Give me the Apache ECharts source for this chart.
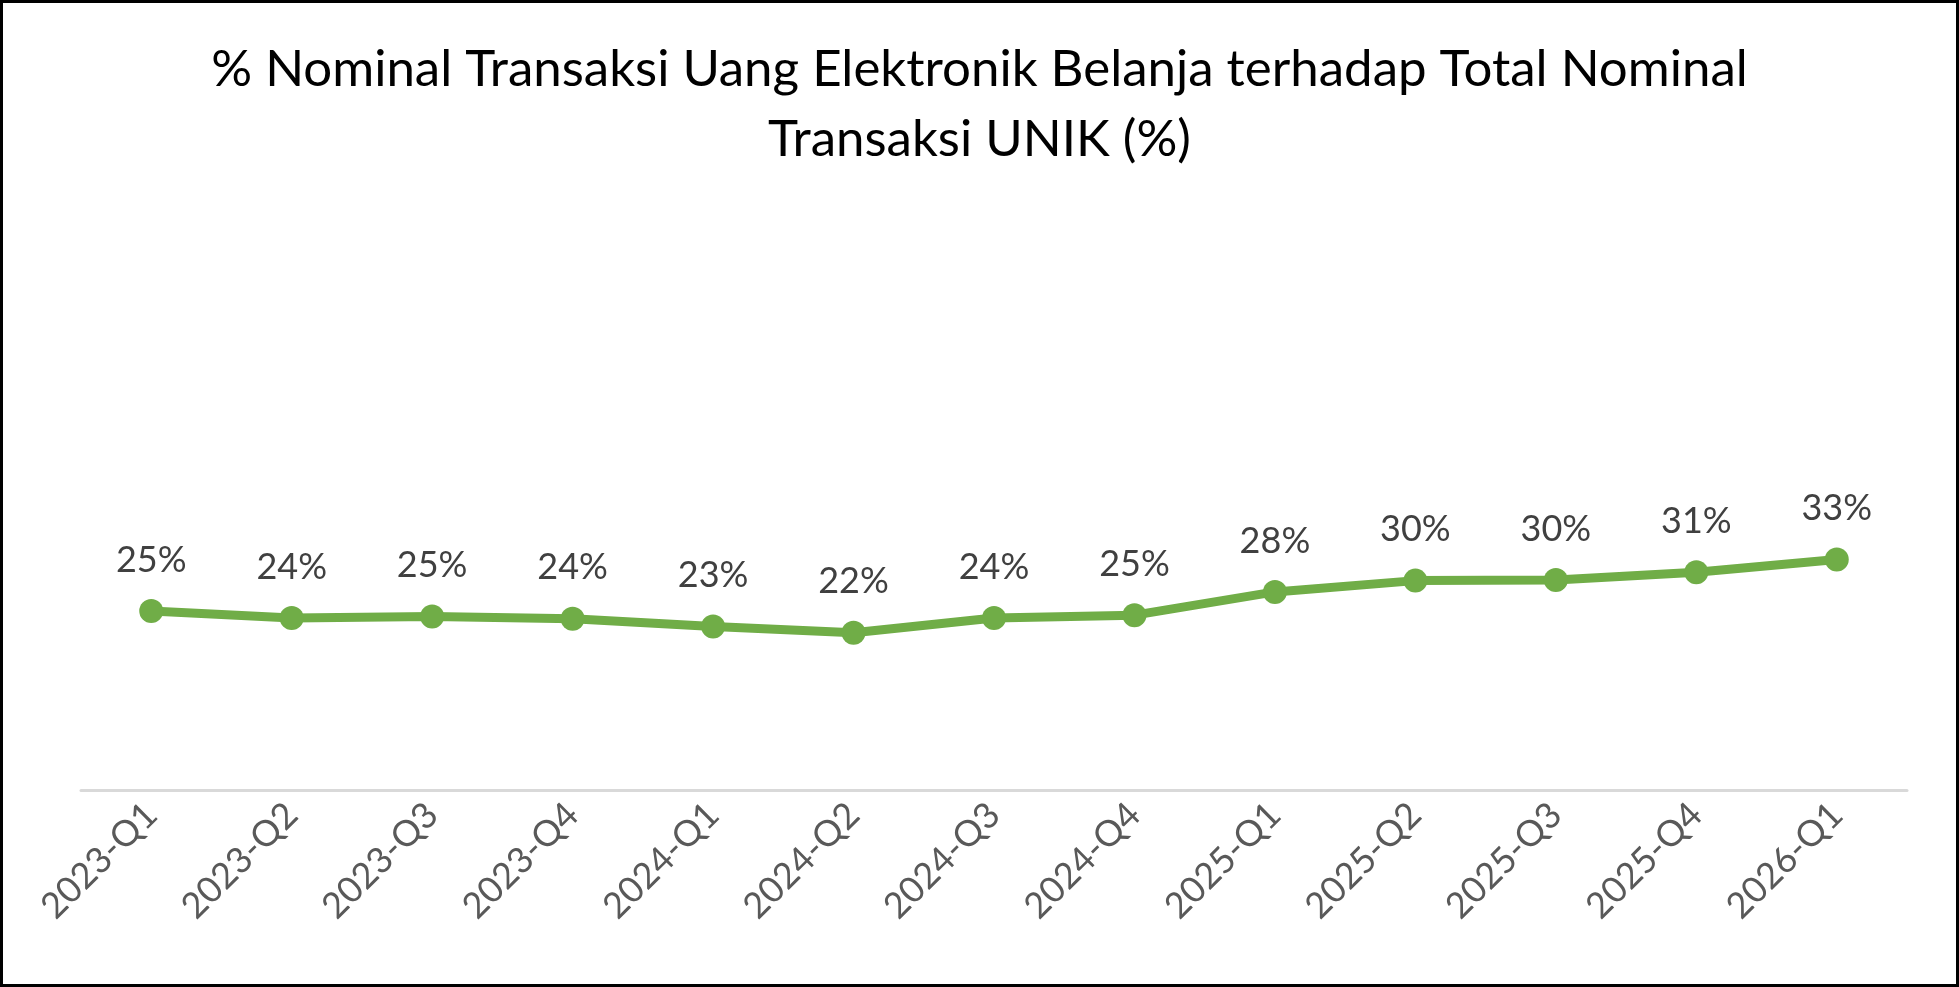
<!DOCTYPE html>
<html>
<head>
<meta charset="utf-8">
<script src="https://cdn.jsdelivr.net/npm/echarts@6/dist/echarts.min.js"></script>
<style>
html,body{margin:0;padding:0;background:#fff;}
#c{width:1959px;height:987px;}
</style>
</head>
<body>
<div id="c"></div>
<script>
const categories = ['2023-Q1','2023-Q2','2023-Q3','2023-Q4','2024-Q1','2024-Q2','2024-Q3','2024-Q4','2025-Q1','2025-Q2','2025-Q3','2025-Q4','2026-Q1'];
const shareValues = [25.4, 24.4, 24.6, 24.3, 23.2, 22.3, 24.4, 24.8, 28.1, 29.7, 29.8, 30.9, 32.7];
const titleLines = ['% Nominal Transaksi Uang Elektronik Belanja terhadap Total Nominal', 'Transaksi UNIK (%)'];

const chart = echarts.init(document.getElementById('c'));
chart.setOption({
  backgroundColor: '#fff',
  animation: false,
  title: {
    text: titleLines.join('\n'),
    left: 'center',
    top: 30,
    textStyle: { fontFamily: 'Lato', fontSize: 51, fontWeight: 'normal', color: '#000', lineHeight: 70 }
  },
  graphic: [{
    type: 'rect',
    shape: { x: 1.5, y: 1.5, width: 1956, height: 984 },
    style: { fill: 'none', stroke: '#000', lineWidth: 3 },
    silent: true
  }],
  grid: { left: 81, right: 52, top: 508, bottom: 197 },
  xAxis: {
    type: 'category',
    data: categories,
    boundaryGap: true,
    axisLine: { lineStyle: { color: '#D9D9D9', width: 3 } },
    axisTick: { show: false },
    axisLabel: { rotate: 45, margin: 19, color: '#595959', fontFamily: 'Lato', fontSize: 36 }
  },
  yAxis: {
    type: 'value', min: 0, max: 40, show: false,
    splitLine: { show: false }
  },
  series: [{
    type: 'line',
    data: shareValues,
    symbol: 'circle',
    symbolSize: 24,
    itemStyle: { color: '#70AD47' },
    lineStyle: { color: '#70AD47', width: 9 },
    label: {
      show: true, position: 'top', distance: 21,
      color: '#404040', fontFamily: 'Lato', fontSize: 36,
      formatter: p => Math.round(p.value) + '%'
    }
  }]
});
</script>
</body>
</html>
